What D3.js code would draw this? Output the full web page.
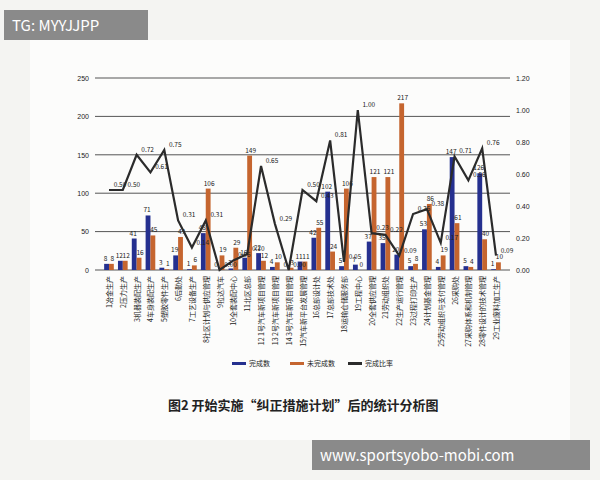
<!DOCTYPE html>
<html>
<head>
<meta charset="utf-8">
<script src="https://d3js.org/d3.v7.min.js"></script>
<style>
body { margin:0; background:#fff; font-family:"Noto Sans CJK SC","Noto Sans",sans-serif; }
</style>
</head>
<body>
<div id="chart"></div>
<script>
var categories = ["1冶金生产","2压力生产","3机器装配生产","4车身装配生产","5塑胶零件生产","6后勤处","7工艺设备生产","8社区计划与供应管理","9拉达汽车","10全套装配中心","11北区总部","12 1号汽车新项目管理","13 2号汽车新项目管理","14 3号汽车新项目管理","15汽车新平台发展管理","16总部设计处","17总部技术处","18运输仓储服务部","19工程中心","20全套供应管理","21劳动组织处","22生产运行管理","23过程打印生产","24计划基金管理","25劳动组织与支付管理","26采购处","27采购体系和机制管理","28零件设计的技术管理","29工业废料加工生产"];
var done   = [8,12,41,71,3,19,1,48,0,2,16,22,4,0,11,42,102,5,7,37,35,20,5,53,4,147,5,126,1];
var undone = [8,12,16,45,1,43,6,106,19,29,149,12,10,3,11,55,24,106,0,121,121,217,8,86,19,61,4,40,10];
var ratio  = [0.50,0.50,0.72,0.61,0.75,0.31,0.14,0.31,0.00,0.06,0.10,0.65,0.29,0.00,0.50,0.43,0.81,0.05,1.00,0.23,0.22,0.09,0.35,0.38,0.17,0.71,0.56,0.76,0.09];
var leftTicks = [0,50,100,150,200,250];
var rightTicks = [0,0.2,0.4,0.6,0.8,1.0,1.2];

var W = 600, H = 480;
var svg = d3.select("#chart").append("svg").attr("width", W).attr("height", H);
svg.append("rect").attr("width", W).attr("height", H).attr("fill", "#f4f4f2");
svg.append("rect").attr("x", 30).attr("y", 40).attr("width", 540).attr("height", 400).attr("fill", "#fcfcfb");

var m = {left:100, right:95, top:78, bottom:210};
var x = d3.scaleBand().domain(categories).range([m.left, W - m.right]).padding(0.3);
var y = d3.scaleLinear().domain([0,250]).range([H - m.bottom, m.top]);
var y2 = d3.scaleLinear().domain([0,1.2]).range([H - m.bottom, m.top]);

svg.selectAll(".grid").data(leftTicks).enter().append("line")
  .attr("x1", m.left - 5).attr("x2", W - m.right + 5)
  .attr("y1", d => y(d)).attr("y2", d => y(d))
  .attr("stroke", "#555").attr("stroke-width", 1);

var ya = svg.append("g").attr("transform", "translate(" + (m.left - 8) + ",0)")
  .call(d3.axisLeft(y).tickValues(leftTicks).tickSize(0));
ya.select(".domain").remove();
ya.selectAll("text").attr("font-size", 7).attr("fill", "#222");

var yb = svg.append("g").attr("transform", "translate(" + (W - m.right + 8) + ",0)")
  .call(d3.axisRight(y2).tickValues(rightTicks).tickSize(0).tickFormat(d3.format(".2f")));
yb.select(".domain").remove();
yb.selectAll("text").attr("font-size", 7).attr("fill", "#222");

var bw = x.bandwidth() / 2;
svg.selectAll(".b1").data(done).enter().append("rect")
  .attr("x", (d,i) => x(categories[i])).attr("width", bw)
  .attr("y", d => y(d)).attr("height", d => y(0) - y(d)).attr("fill", "#25308f");
svg.selectAll(".b2").data(undone).enter().append("rect")
  .attr("x", (d,i) => x(categories[i]) + bw).attr("width", bw)
  .attr("y", d => y(d)).attr("height", d => y(0) - y(d)).attr("fill", "#c5652f");

function lbl(s){ return s.attr("font-size", 6.5).attr("fill", "#222").attr("text-anchor", "middle"); }
lbl(svg.selectAll(".l1").data(done).enter().append("text")
  .attr("x", (d,i) => x(categories[i]) + bw/2 - 1).attr("y", d => y(d) - 3).text(d => d));
lbl(svg.selectAll(".l2").data(undone).enter().append("text")
  .attr("x", (d,i) => x(categories[i]) + bw*1.5 + 1).attr("y", d => y(d) - 3).text(d => d));

var cx = (d,i) => x(categories[i]) + x.bandwidth()/2;
svg.append("path").datum(ratio)
  .attr("d", d3.line().x(cx).y(d => y2(d)))
  .attr("fill", "none").attr("stroke", "#2b2b2b").attr("stroke-width", 2.2);
lbl(svg.selectAll(".l3").data(ratio).enter().append("text")
  .attr("x", (d,i) => cx(d,i) + 11).attr("y", d => y2(d) - 3).text(d => d.toFixed(2)));

svg.selectAll(".cat").data(categories).enter().append("text")
  .attr("transform", d => "translate(" + (x(d) + x.bandwidth()/2 + 3) + "," + (y(0) + 6) + ") rotate(-90)")
  .attr("text-anchor", "end").attr("font-size", 7).attr("fill", "#222").text(d => d);

var legend = [["完成数","#25308f"],["未完成数","#c5652f"],["完成比率","#2b2b2b"]];
var lg = svg.selectAll(".lg").data(legend).enter().append("g")
  .attr("transform", (d,i) => "translate(" + (232 + i*58) + ",365)");
lg.append("rect").attr("width", 14).attr("height", 3).attr("y", -3).attr("fill", d => d[1]);
lg.append("text").attr("x", 17).attr("y", 1).attr("font-size", 7).attr("fill", "#222").text(d => d[0]);

svg.append("text").attr("x", 168).attr("y", 410).attr("font-size", 13).attr("font-weight", "bold")
  .attr("fill", "#222").text("图2  开始实施“纠正措施计划”后的统计分析图");

svg.append("rect").attr("x", 4).attr("y", 10).attr("width", 144).attr("height", 30).attr("fill", "#8a8a8a");
svg.append("text").attr("x", 12).attr("y", 31).attr("font-size", 15).attr("fill", "#fff").text("TG: MYYJJPP");
svg.append("rect").attr("x", 312).attr("y", 440).attr("width", 278).attr("height", 30).attr("fill", "#8a8a8a");
svg.append("text").attr("x", 320).attr("y", 461).attr("font-size", 15).attr("fill", "#fff").text("www.sportsyobo-mobi.com");
</script>
</body>
</html>
